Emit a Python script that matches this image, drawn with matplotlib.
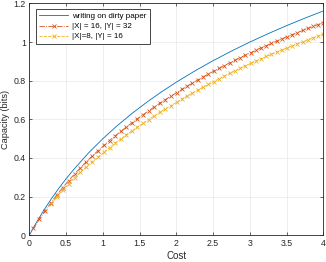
import matplotlib

matplotlib.use('Agg')

import matplotlib.pyplot as plt
from matplotlib.ticker import FormatStrFormatter, MultipleLocator

plt.rcParams['font.family'] = ['Liberation Sans', 'DejaVu Sans']

# writing on dirty paper (smooth curve)
dpc_cost = [0, 0.05, 0.1, 0.2, 0.3, 0.4, 0.5, 0.6, 0.8, 1.0, 1.2, 1.4, 1.6, 1.8,
            2.0, 2.25, 2.5, 2.75, 3.0, 3.25, 3.5, 3.75, 4.0]
dpc_cap = [0, 0.0352, 0.0688, 0.1315, 0.1893, 0.2427, 0.2925, 0.3390, 0.4240, 0.5,
           0.5688, 0.6315, 0.6893, 0.7428, 0.7925, 0.8502, 0.9037, 0.9534, 1.0,
           1.0437, 1.0850, 1.1240, 1.1610]

# |X| = 16, |Y| = 32
cost_16 = [0.055, 0.135, 0.215, 0.295, 0.375, 0.455, 0.535, 0.615, 0.695, 0.775,
           0.855, 0.935, 1.015, 1.091, 1.167, 1.243, 1.319, 1.395, 1.471, 1.547,
           1.623, 1.699, 1.775, 1.851, 1.927, 2.003, 2.075, 2.147, 2.219, 2.291,
           2.363, 2.435, 2.507, 2.579, 2.651, 2.723, 2.795, 2.867, 2.939, 3.011,
           3.082, 3.152, 3.223, 3.293, 3.364, 3.435, 3.505, 3.576, 3.647, 3.717,
           3.788, 3.858, 3.929, 4.0]
cap_16 = [0.0353, 0.0832, 0.1276, 0.1688, 0.2091, 0.2471, 0.2830, 0.3173, 0.3497,
          0.3807, 0.4100, 0.4382, 0.4651, 0.4903, 0.5145, 0.5378, 0.5604, 0.5821,
          0.6032, 0.6239, 0.6444, 0.6642, 0.6835, 0.7022, 0.7204, 0.7382, 0.7551,
          0.7717, 0.7879, 0.8037, 0.8192, 0.8343, 0.8491, 0.8636, 0.8778, 0.8918,
          0.9055, 0.9189, 0.9320, 0.9450, 0.9574, 0.9694, 0.9814, 0.9931, 1.0047,
          1.0162, 1.0273, 1.0383, 1.0492, 1.0598, 1.0703, 1.0806, 1.0908, 1.1010]

# |X| = 8, |Y| = 16
cost_8 = [0.295, 0.375, 0.455, 0.535, 0.615, 0.695, 0.775, 0.855, 0.935, 1.015,
          1.091, 1.167, 1.243, 1.319, 1.395, 1.471, 1.547, 1.623, 1.699, 1.775,
          1.851, 1.927, 2.003, 2.075, 2.147, 2.219, 2.291, 2.363, 2.435, 2.507,
          2.579, 2.651, 2.723, 2.795, 2.867, 2.939, 3.011, 3.082, 3.152, 3.223,
          3.293, 3.364, 3.435, 3.505, 3.576, 3.647, 3.717, 3.788, 3.858, 3.929, 4.0]
cap_8 = [0.1618, 0.1991, 0.2339, 0.2666, 0.2975, 0.3266, 0.3542, 0.3806, 0.4056,
         0.4298, 0.4536, 0.4765, 0.4985, 0.5197, 0.5400, 0.5597, 0.5794, 0.5989,
         0.6178, 0.6362, 0.6540, 0.6713, 0.6882, 0.7045, 0.7205, 0.7361, 0.7514,
         0.7663, 0.7808, 0.7951, 0.8095, 0.8236, 0.8373, 0.8509, 0.8641, 0.8771,
         0.8899, 0.9019, 0.9137, 0.9253, 0.9367, 0.9479, 0.9590, 0.9698, 0.9805,
         0.9910, 1.0012, 1.0114, 1.0213, 1.0313, 1.0410]

fig = plt.figure(figsize=(3.26, 2.62), dpi=100)
ax = fig.add_axes([0.09, 0.102, 0.902, 0.885])

ax.plot(dpc_cost, dpc_cap, '-', color='#0072BD', lw=0.6, label='writing on dirty paper')
ax.plot(cost_16, cap_16, '-.x', color='#D95319', lw=0.6, ms=3.2, mew=0.6,
        label='|X| = 16, |Y| = 32')
ax.plot(cost_8, cap_8, '--x', color='#EDB120', lw=0.6, ms=3.2, mew=0.6,
        label='|X|=8, |Y| = 16')

ax.set_xlim(0, 4)
ax.set_ylim(0, 1.2)
ax.xaxis.set_major_locator(MultipleLocator(0.5))
ax.yaxis.set_major_locator(MultipleLocator(0.2))
ax.xaxis.set_major_formatter(FormatStrFormatter('%g'))
ax.yaxis.set_major_formatter(FormatStrFormatter('%g'))

ax.grid(True, color='#ebebeb', lw=0.6)
ax.set_axisbelow(True)
for s in ax.spines.values():
    s.set_color('#262626')
    s.set_linewidth(0.6)
ax.tick_params(direction='in', length=2.5, width=0.5, colors='#262626',
               labelsize=6.3, top=True, right=True, pad=2.5)

ax.set_xlabel('Cost', fontsize=7, color='#262626', labelpad=2.5)
ax.set_ylabel('Capacity (bits)', fontsize=6.6, color='#262626')
ax.yaxis.set_label_coords(-0.065, 0.5)

leg = ax.legend(loc='upper left', bbox_to_anchor=(0.023, 0.974), borderaxespad=0,
                fontsize=5.8, fancybox=False, framealpha=1, edgecolor='#262626',
                handlelength=3.6, handletextpad=0.5, borderpad=0.4, labelspacing=0.3)
leg.get_frame().set_linewidth(0.6)

fig.savefig('out.png', dpi=100)
plt.close(fig)
